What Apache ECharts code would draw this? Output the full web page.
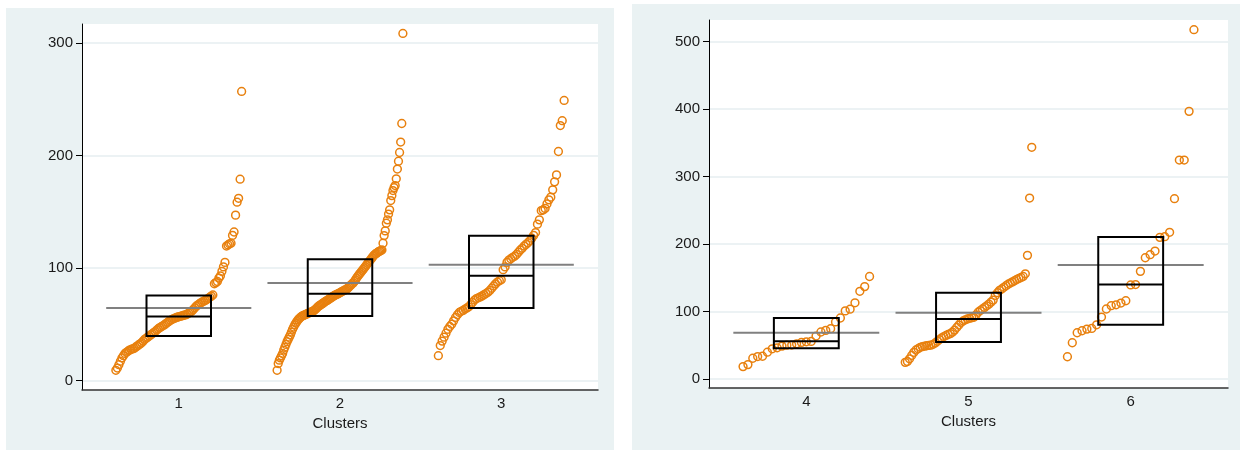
<!DOCTYPE html>
<html>
<head>
<meta charset="utf-8">
<title>Clusters</title>
<script src="https://cdn.jsdelivr.net/npm/echarts@6.0.0/dist/echarts.min.js"></script>
<style>
html, body { margin: 0; padding: 0; background: #fff; }
#chart { width: 1240px; height: 450px; }
</style>
</head>
<body>
<div id="chart"></div>
<script>
const leftClusters = [1, 2, 3]
const rightClusters = [4, 5, 6]
const leftTicks = [0, 100, 200, 300]
const rightTicks = [0, 100, 200, 300, 400, 500]

// sorted values per cluster
const c1 = [9, 11, 14, 17, 20, 22, 24, 25, 26, 27,
  27.5, 28, 28.5, 29.5, 30.5, 31.5, 32.5, 33.5, 35, 36.5,
  37.5, 38.5, 39.5, 40.5, 41.5, 42.5, 43.5, 44.8, 46, 47,
  47.8, 48.6, 49.4, 50.5, 51.5, 52.5, 53.5, 54.2, 54.8, 55.4,
  56, 56.4, 56.8, 57.2, 57.6, 58, 58.3, 59, 59.8, 60.6,
  61.5, 63, 64.5, 66, 67, 68, 69, 69.8, 70.5, 71.2,
  72, 73, 74, 75, 76,
  86, 87, 88, 91, 93, 97, 101, 105, 119.5, 120.5, 121.5, 122, 129, 132, 147, 158.5, 162, 179, 257]
const c2 = [9, 15, 18, 20, 22, 24, 27, 29.5, 32, 34.5,
  36.5, 38.5, 40.5, 43, 45.5, 47.5, 49.5, 51, 52.5, 54,
  55, 56, 56.8, 57.4, 57.9, 58.3, 58.7, 59.2, 59.7, 60.1,
  60.5, 61, 61.3, 61.8, 62.6, 63.5, 64.5, 65.5, 66.3, 67,
  67.6, 68.3, 69, 69.7, 70.4, 71, 71.6, 72.2, 72.9, 73.6,
  74.3, 75, 75.6, 76, 76.5, 77, 77.5, 78, 78.6, 79.2,
  79.7, 80.2, 80.6, 81.2, 82, 83, 84, 85, 86, 86.8,
  88, 89.5, 91, 92.5, 93.8, 95, 96.2, 97.5, 98.8, 100,
  101.3, 102.6, 104, 105.2, 106.5, 107.8, 109, 110.5, 111.5, 112.5,
  113, 113.8, 114.5, 115, 115.5,
  116, 122, 128.8, 133, 139.8, 142.8, 148, 151.7, 160, 164.4,
  168.9, 171.5, 173.3, 179.3, 188, 195, 202.7, 212, 228.5, 308.6]
const c3 = [22, 31, 35, 38.5, 42, 45.5, 48, 50, 53, 56,
  58.5, 60.5, 61.5, 62.3, 63.5, 64.5, 65.5, 67.5, 69.5, 71.5,
  72.8, 73.5, 74.3, 75.2, 76.3, 77.3, 78.5, 80, 82, 84,
  85.9, 87.5, 88.7, 89.5, 98.5, 101, 105, 107, 108.3, 109.5,
  110.5, 112, 114, 116, 117.5, 119.5, 121, 122.5, 124.3, 126.5,
  129, 131.5, 139, 142.8, 151, 151.7, 153, 157, 160.6, 163,
  169.5, 176.6, 182.8, 203.6, 226.7, 231, 249]
const c4 = [18.4, 21.4, 30.8, 33.3, 33.8, 39.8, 44.8, 46.3, 48.8, 50.2,
  50.4, 52.2, 54.2, 55.2, 55.7, 63.7, 69.7, 72.1, 74.6, 84.6,
  90.5, 101, 103.5, 113, 130, 137, 152]
const c5 = [24.7, 26, 30, 35, 39.5, 43, 45, 47, 48, 48.8,
  49.3, 49.8, 50.3, 51.5, 53.5, 56, 58.5, 61, 63, 64.5,
  66, 67.3, 69.5, 72.5, 76.5, 80, 84, 86, 87.8, 89,
  90, 90.8, 91.5, 95, 99, 101.5, 103.8, 106, 108.5, 111,
  114, 117, 124, 128, 131.5, 133.5, 136, 138.3, 140.5, 142.3,
  144, 145.7, 147.5, 149, 150.5, 152, 156, 183.3, 268.3, 343.5]
const c6 = [33, 53.8, 68.6, 71.6, 74, 75, 80.4, 91.9, 103.8, 108.7,
  110, 112.6, 116, 139.5, 140, 159.6, 179.8, 184.3, 189.7, 210,
  211, 217.5, 267.3, 324.6, 324.6, 396.8, 517.8]

// box (quartiles, median) and mean per cluster
const leftQ1 = [39.6, 57.4, 64.5]
const leftMedian = [56.8, 77, 93]
const leftQ3 = [75.5, 107.8, 128.6]
const leftMean = [64.5, 86.7, 103]
const rightQ1 = [45.5, 54.8, 80.4]
const rightMedian = [56, 89, 140]
const rightQ3 = [90.4, 128, 210.5]
const rightMean = [68.7, 98.3, 169]

const orange = '#e8800e'
const font = 'Liberation Sans'
const txt = '#1a1a1a'

function strip(cluster, values) {
  const n = values.length
  return values.map((v, i) => [cluster - 0.39 + 0.78 * i / (n - 1), v])
}

function boxData(clusters, q1, med, q3, mean) {
  return clusters.map((c, i) => [c, q1[i], med[i], q3[i], mean[i]])
}

function renderBox(params, api) {
  const c = api.value(0)
  const a = api.coord([c - 0.2, api.value(3)])
  const b = api.coord([c + 0.2, api.value(1)])
  const m1 = api.coord([c - 0.2, api.value(2)])
  const m2 = api.coord([c + 0.2, api.value(2)])
  const e1 = api.coord([c - 0.45, api.value(4)])
  const e2 = api.coord([c + 0.45, api.value(4)])
  return {
    type: 'group',
    children: [
      { type: 'line', shape: { x1: e1[0], y1: e1[1], x2: e2[0], y2: e2[1] },
        style: { stroke: '#808080', lineWidth: 2 } },
      { type: 'rect', shape: { x: a[0], y: a[1], width: b[0] - a[0], height: b[1] - a[1] },
        style: { fill: null, stroke: '#000', lineWidth: 2 } },
      { type: 'line', shape: { x1: m1[0], y1: m1[1], x2: m2[0], y2: m2[1] },
        style: { stroke: '#000', lineWidth: 2 } }
    ]
  }
}

function xAxisOf(idx, min, max, labels) {
  return {
    gridIndex: idx, type: 'value', min: min, max: max,
    axisLine: { show: true, onZero: false, lineStyle: { color: '#333', width: 1.5 } },
    axisTick: { show: false, customValues: labels },
    axisLabel: { customValues: labels, margin: 6, fontSize: 15, color: txt, fontFamily: font },
    splitLine: { show: false },
    name: 'Clusters', nameLocation: 'middle', nameGap: 25,
    nameTextStyle: { fontSize: 15, color: txt, fontFamily: font }
  }
}

function yAxisOf(idx, min, max, ticks) {
  return {
    gridIndex: idx, type: 'value', min: min, max: max,
    axisLine: { show: true, onZero: false, lineStyle: { color: '#000', width: 1 } },
    axisTick: { show: true, length: 6, customValues: ticks, lineStyle: { color: '#000', width: 1 } },
    axisLabel: { customValues: ticks, margin: 9, fontSize: 15, color: txt, fontFamily: font },
    splitLine: { show: true, lineStyle: { color: '#e6eef1', width: 1.5 } }
  }
}

function scatterOf(idx, data) {
  return {
    type: 'scatter', xAxisIndex: idx, yAxisIndex: idx, data: data,
    symbol: 'circle', symbolSize: 7.8,
    itemStyle: { color: 'rgba(0,0,0,0)', borderColor: orange, borderWidth: 1.5, opacity: 1 },
    emphasis: { disabled: true }, z: 2
  }
}

const chart = echarts.init(document.getElementById('chart'))
chart.setOption({
  animation: false,
  backgroundColor: '#fff',
  graphic: [
    { type: 'rect', z: -10, shape: { x: 6, y: 8, width: 608, height: 442 }, style: { fill: '#eaf2f3' } },
    { type: 'rect', z: -10, shape: { x: 632, y: 4, width: 608, height: 446 }, style: { fill: '#eaf2f3' } }
  ],
  grid: [
    { left: 82, top: 24, width: 516, height: 366, show: true, backgroundColor: '#fff', borderWidth: 0 },
    { left: 709, top: 20, width: 519, height: 368, show: true, backgroundColor: '#fff', borderWidth: 0 }
  ],
  xAxis: [xAxisOf(0, 0.4, 3.6, leftClusters), xAxisOf(1, 3.4, 6.6, rightClusters)],
  yAxis: [yAxisOf(0, -8.5, 317, leftTicks), yAxisOf(1, -13.3, 532.2, rightTicks)],
  series: [
    scatterOf(0, strip(1, c1).concat(strip(2, c2), strip(3, c3))),
    scatterOf(1, strip(4, c4).concat(strip(5, c5), strip(6, c6))),
    { type: 'custom', xAxisIndex: 0, yAxisIndex: 0, renderItem: renderBox, z: 3,
      data: boxData(leftClusters, leftQ1, leftMedian, leftQ3, leftMean) },
    { type: 'custom', xAxisIndex: 1, yAxisIndex: 1, renderItem: renderBox, z: 3,
      data: boxData(rightClusters, rightQ1, rightMedian, rightQ3, rightMean) }
  ]
})
</script>
</body>
</html>
